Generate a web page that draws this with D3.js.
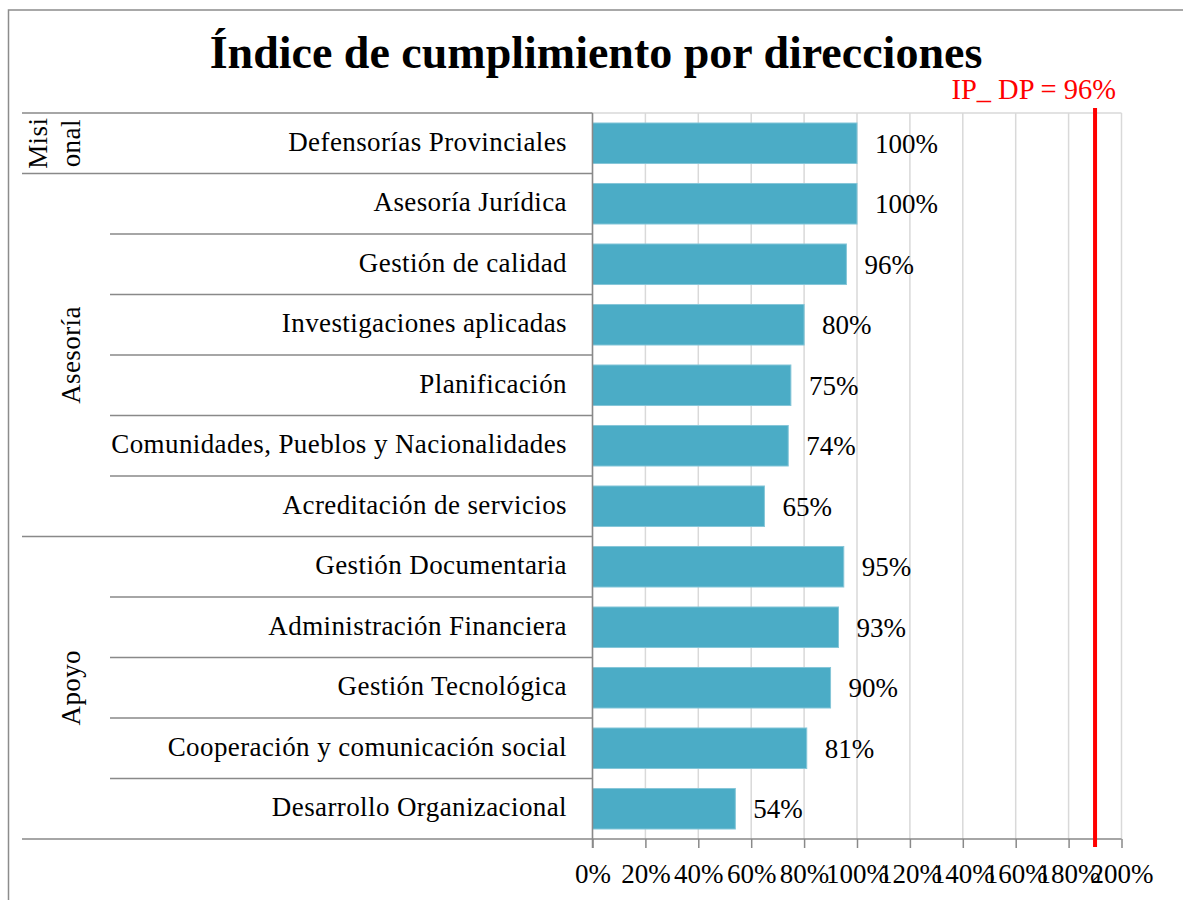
<!DOCTYPE html>
<html>
  <head>
    <meta http-equiv="Content-type" content="text/html; charset=utf-8">
    <title>Índice de cumplimiento por direcciones</title>
    <script src="https://d3js.org/d3.v7.min.js"></script>
    <style>
      body { margin: 0; background: #fff; }
      text { font-family: "Liberation Serif", "DejaVu Serif", serif; fill: #000; }
    </style>
  </head>
  <body>
  <div id="chart"></div>
  <script type="text/javascript">
    // data
    var categories = [
      'Defensorías Provinciales',
      'Asesoría Jurídica',
      'Gestión de calidad',
      'Investigaciones aplicadas',
      'Planificación',
      'Comunidades, Pueblos y Nacionalidades',
      'Acreditación de servicios',
      'Gestión Documentaria',
      'Administración Financiera',
      'Gestión Tecnológica',
      'Cooperación y comunicación social',
      'Desarrollo Organizacional'
    ];
    var values = [1.00, 1.00, 0.96, 0.80, 0.75, 0.74, 0.65, 0.95, 0.93, 0.90, 0.81, 0.54];
    var groupLabels = [['Misi', 'onal'], ['Asesoría'], ['Apoyo']];
    var groupSizes = [1, 6, 5];
    var xTicks = [0, 0.2, 0.4, 0.6, 0.8, 1.0, 1.2, 1.4, 1.6, 1.8, 2.0];
    var refLabel = 'IP_ DP = 96%';
    var refPosition = 1.90;   // where the red line sits on the axis

    (function(d3) {
      'use strict';

      var width = 1183, height = 900;
      var plotLeft = 592.5, plotRight = 1121.5, plotTop = 113, plotBottom = 839;

      var svg = d3.select('#chart').append('svg')
        .attr('width', width)
        .attr('height', height);

      // outer chart border
      svg.append('rect')
        .attr('x', 8.5).attr('y', 10)
        .attr('width', 1250).attr('height', 1000)
        .attr('fill', 'none')
        .attr('stroke', '#8c8c8c')
        .attr('stroke-width', 1.5);

      var x = d3.scaleLinear().domain([0, 2]).range([plotLeft, plotRight]);
      var y = d3.scaleBand().domain(categories).range([plotTop, plotBottom])
        .paddingInner(0.33).paddingOuter(0.165);
      var step = y.step();
      var pct = d3.format('.0%');

      // title
      svg.append('text')
        .attr('x', 596).attr('y', 68)
        .attr('text-anchor', 'middle')
        .style('font-size', '46px')
        .style('font-weight', 'bold')
        .text('Índice de cumplimiento por direcciones');

      // gridlines
      svg.append('g').selectAll('line')
        .data(xTicks)
        .enter().append('line')
        .attr('x1', function(d) { return x(d); })
        .attr('x2', function(d) { return x(d); })
        .attr('y1', plotTop).attr('y2', plotBottom)
        .attr('stroke', '#d9d9d9')
        .attr('stroke-width', 1.5);
      svg.append('line')
        .attr('x1', plotLeft).attr('x2', plotRight)
        .attr('y1', plotTop).attr('y2', plotTop)
        .attr('stroke', '#d9d9d9').attr('stroke-width', 1.5);

      // bars
      svg.append('g').selectAll('rect')
        .data(values)
        .enter().append('rect')
        .attr('x', x(0))
        .attr('y', function(d, i) { return y(categories[i]); })
        .attr('width', function(d) { return x(d) - x(0); })
        .attr('height', y.bandwidth())
        .attr('fill', '#4bacc6')
        .attr('stroke', '#86c6d8')
        .attr('stroke-width', 1);

      // value labels
      svg.append('g').selectAll('text')
        .data(values)
        .enter().append('text')
        .attr('x', function(d) { return x(d) + 18; })
        .attr('y', function(d, i) { return y(categories[i]) + y.bandwidth() / 2; })
        .attr('dy', '0.35em')
        .style('font-size', '27px')
        .text(function(d) { return pct(d); });

      // x axis
      var xAxis = svg.append('g')
        .attr('transform', 'translate(0,' + plotBottom + ')')
        .call(d3.axisBottom(x).tickValues(xTicks).tickSize(9).tickSizeOuter(0)
          .tickFormat(pct));
      xAxis.select('.domain').remove();
      xAxis.selectAll('.tick line').attr('stroke', '#898989').attr('stroke-width', 1.5);
      xAxis.selectAll('.tick text')
        .attr('y', 44).attr('dy', null)
        .style('font-size', '27px')
        .style('font-family', '"Liberation Serif", serif')
        .attr('fill', '#000');

      // category axis: separators and labels
      var rowTop = function(i) { return plotTop + i * step; };
      var groupStarts = [];
      var acc = 0;
      groupSizes.forEach(function(s) { groupStarts.push(acc); acc += s; });

      var cat = svg.append('g');
      d3.range(categories.length + 1).forEach(function(i) {
        var isGroup = groupStarts.indexOf(i) >= 0 || i === categories.length;
        cat.append('line')
          .attr('x1', isGroup ? 22 : 110)
          .attr('x2', i === categories.length ? plotRight : plotLeft)
          .attr('y1', rowTop(i)).attr('y2', rowTop(i))
          .attr('stroke', '#898989').attr('stroke-width', 1.5);
      });
      cat.append('line')
        .attr('x1', plotLeft).attr('x2', plotLeft)
        .attr('y1', plotTop).attr('y2', plotBottom + 9)
        .attr('stroke', '#898989').attr('stroke-width', 1.5);

      cat.selectAll('text.cat')
        .data(categories)
        .enter().append('text')
        .attr('class', 'cat')
        .attr('x', 567)
        .attr('y', function(d) { return y(d) + y.bandwidth() / 2; })
        .attr('dy', '0.28em')
        .attr('text-anchor', 'end')
        .style('font-size', '27px')
        .style('letter-spacing', '0.4px')
        .text(function(d) { return d; });

      // group labels, rotated
      groupLabels.forEach(function(lines, g) {
        var cy = rowTop(groupStarts[g]) + groupSizes[g] * step / 2;
        var baseX = lines.length > 1 ? [47, 80] : [80];
        lines.forEach(function(t, k) {
          cat.append('text')
            .attr('transform', 'translate(' + baseX[k] + ',' + cy + ') rotate(-90)')
            .attr('text-anchor', 'middle')
            .style('font-size', '27px')
            .style('letter-spacing', '0.4px')
            .text(t);
        });
      });

      // reference line
      svg.append('line')
        .attr('x1', x(refPosition)).attr('x2', x(refPosition))
        .attr('y1', 108).attr('y2', plotBottom + 8)
        .attr('stroke', '#ff0000')
        .attr('stroke-width', 4);
      svg.append('text')
        .attr('x', x(refPosition) + 21).attr('y', 99)
        .attr('text-anchor', 'end')
        .style('font-size', '28.5px')
        .style('fill', '#ff0000')
        .text(refLabel);
    })(window.d3);
  </script>
  </body>
</html>
